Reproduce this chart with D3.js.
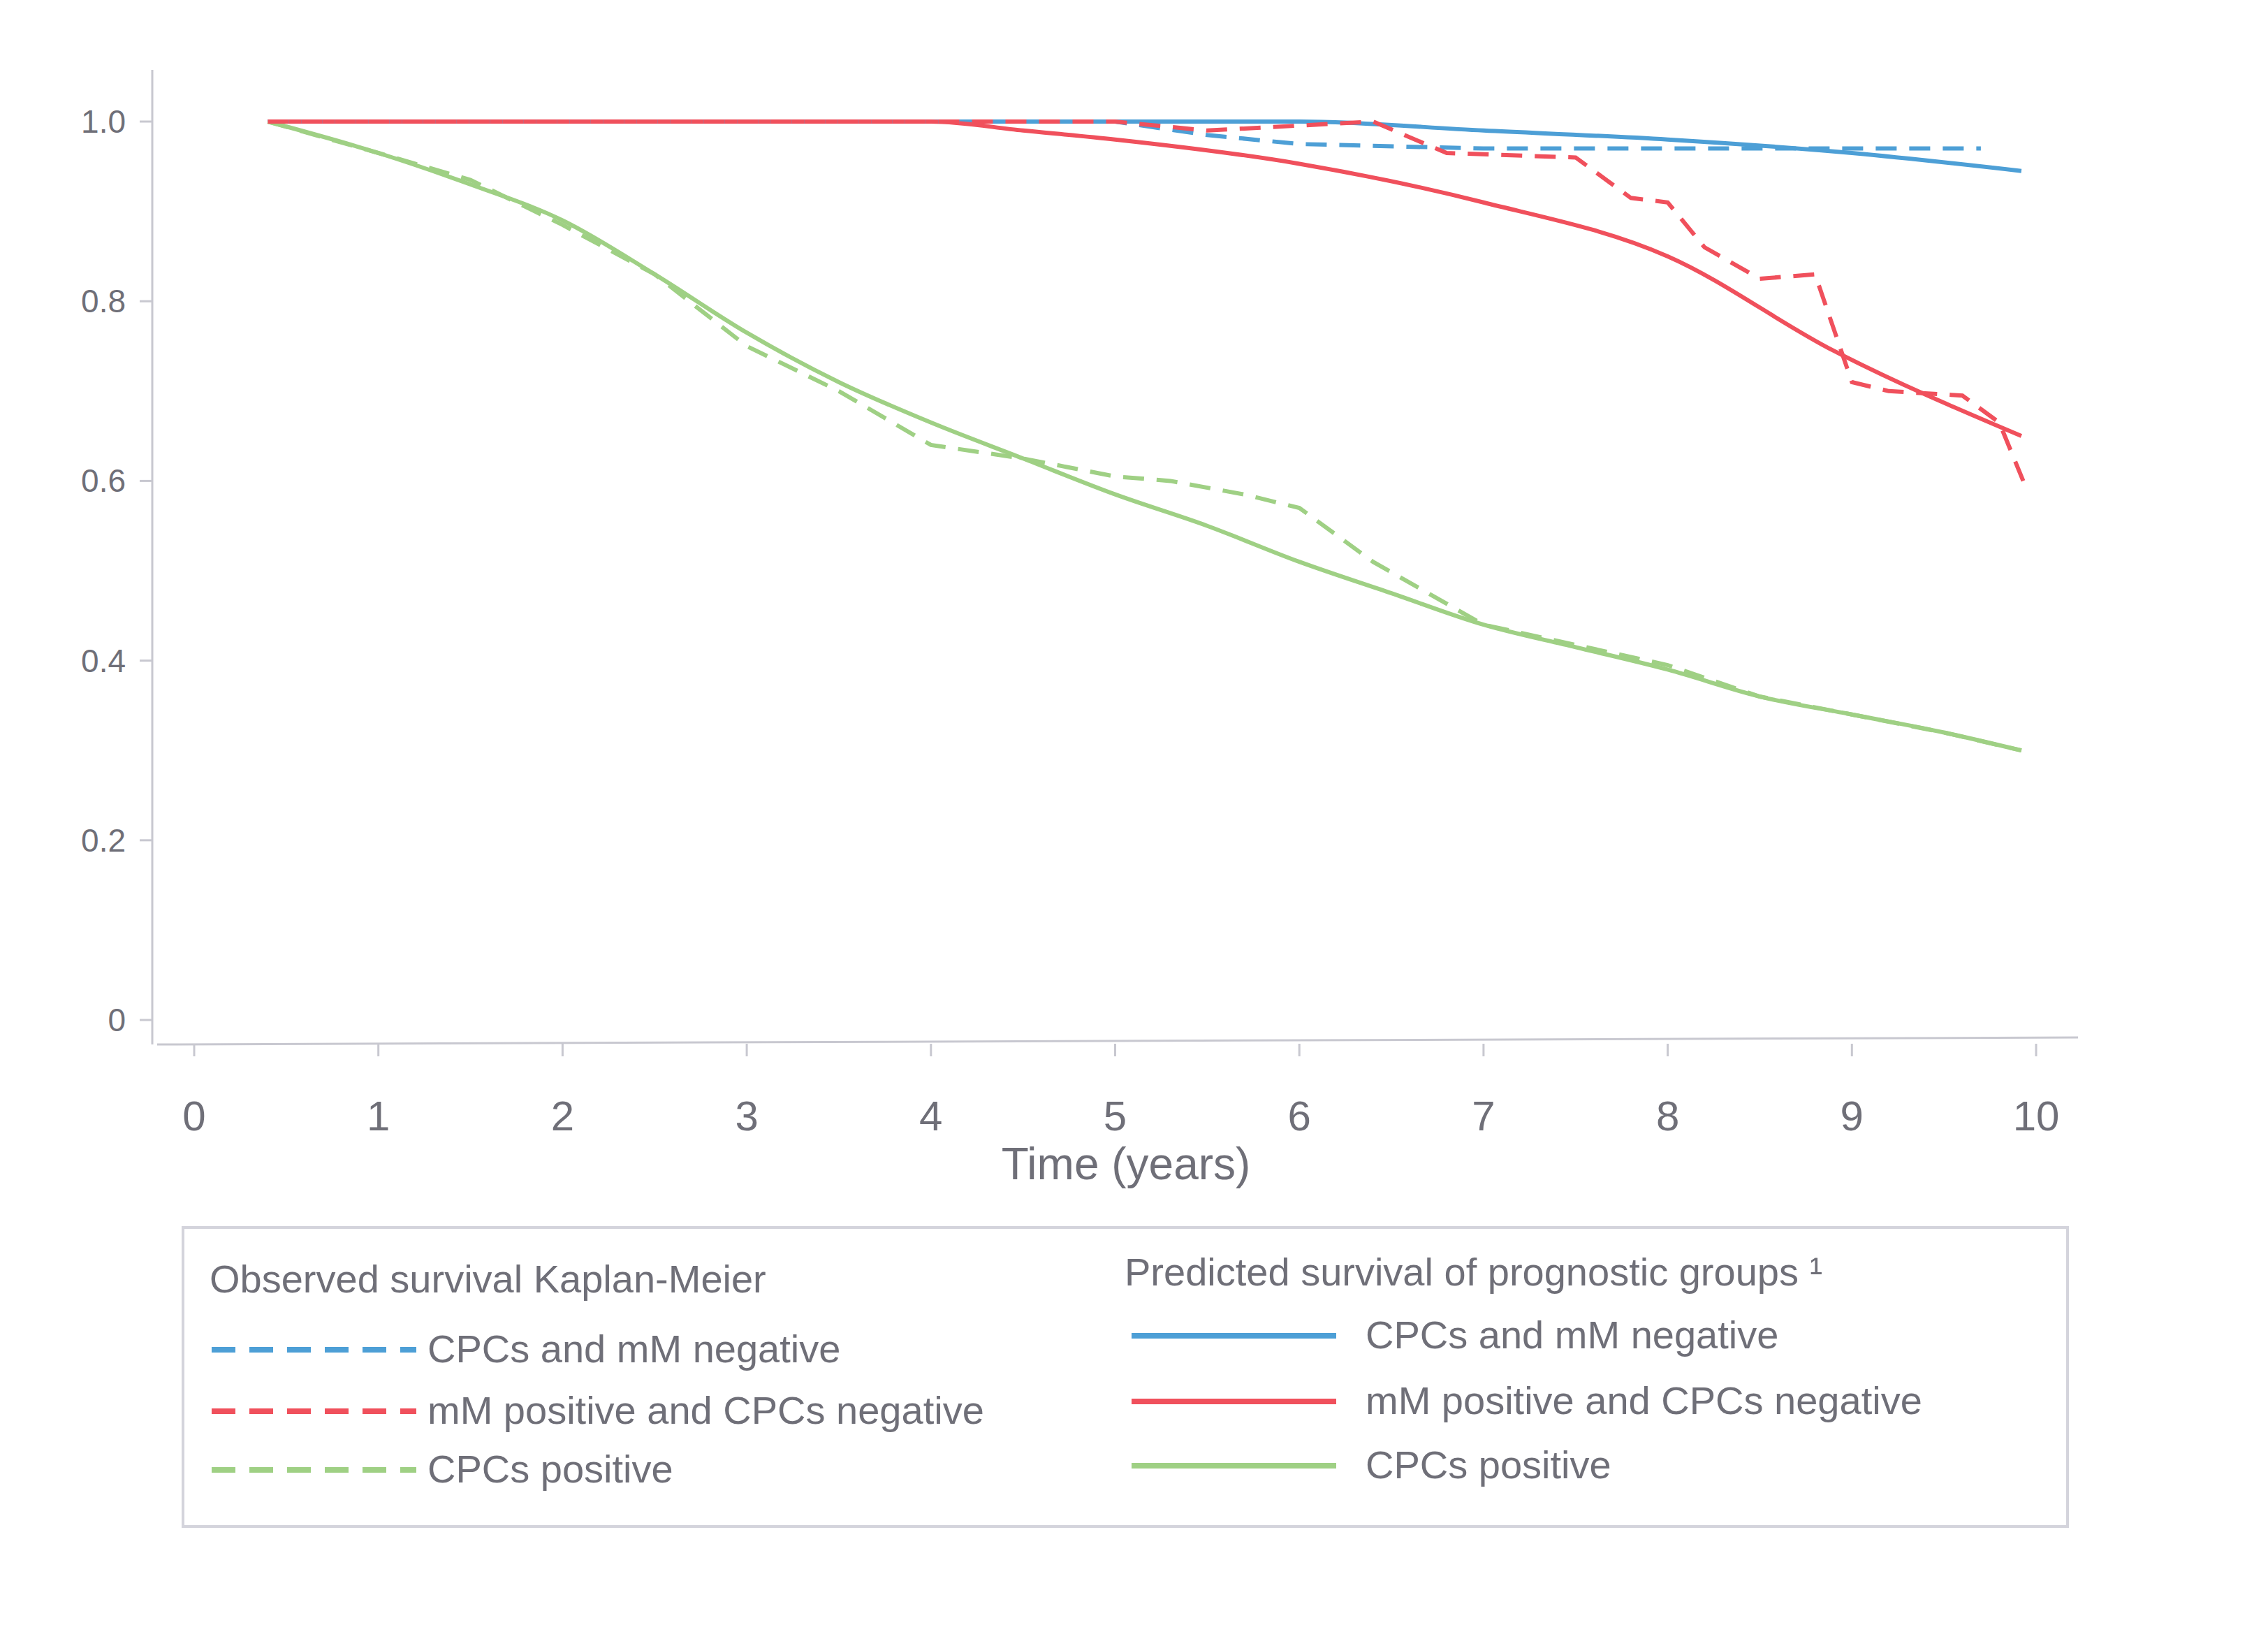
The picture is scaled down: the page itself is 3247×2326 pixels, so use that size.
<!DOCTYPE html>
<html>
<head>
<meta charset="utf-8">
<script src="https://cdn.jsdelivr.net/npm/d3@7"></script>
<style>
  body { margin: 0; background: #fff; }
  text { font-family: "Liberation Sans", Arial, sans-serif; fill: #6f6f78; }
</style>
</head>
<body>
<script>
(function() {
    'use strict';

    var xTicks = [0, 1, 2, 3, 4, 5, 6, 7, 8, 9, 10];
    var yTicks = [0, 0.2, 0.4, 0.6, 0.8, 1.0];

    // predicted survival (solid)
    var predBlue = [[0.4, 1], [5, 1], [6, 1.0], [7, 0.99], [8, 0.98], [9, 0.965], [9.92, 0.945]];
    var predRed = [[0.4, 1], [4, 1], [4.5, 0.99], [5, 0.98], [6, 0.953], [7, 0.91], [8, 0.85], [8.9, 0.745], [9.92, 0.65]];
    var predGreen = [[0.4, 1], [1, 0.965], [1.5, 0.93], [2, 0.89], [2.5, 0.83], [3, 0.765], [3.5, 0.71],
        [4, 0.665], [4.5, 0.625], [5, 0.585], [5.5, 0.55], [6, 0.51], [6.5, 0.475], [7, 0.44],
        [7.5, 0.415], [8, 0.39], [8.5, 0.36], [9, 0.34], [9.5, 0.32], [9.92, 0.30]];

    // observed Kaplan-Meier (dashed)
    var obsBlue = [[0.4, 1], [5, 1], [5.5, 0.985], [6, 0.975], [7, 0.97], [8, 0.97], [9, 0.97], [9.7, 0.97]];
    var obsRed = [[0.4, 1], [5, 1], [5.5, 0.99], [6.4, 1.0], [6.8, 0.965], [7.5, 0.96], [7.8, 0.915],
        [8.0, 0.91], [8.2, 0.86], [8.5, 0.825], [8.8, 0.83], [9.0, 0.71], [9.2, 0.70], [9.6, 0.695],
        [9.8, 0.665], [9.95, 0.59]];
    var obsGreen = [[0.4, 1], [1, 0.965], [1.5, 0.935], [2, 0.885], [2.5, 0.83], [3, 0.75], [3.5, 0.7],
        [4, 0.64], [4.5, 0.625], [5, 0.605], [5.3, 0.6], [5.7, 0.585], [6, 0.57], [6.4, 0.51],
        [7, 0.44], [8, 0.395], [8.5, 0.36], [9, 0.34], [9.5, 0.32], [9.92, 0.30]];

    var blue = '#4d9fd6', red = '#f0505c', green = '#9fd084';

    var svg = d3.select('body').append('svg')
        .attr('width', 3247)
        .attr('height', 2326);

    var x = d3.scaleLinear().domain([0, 10]).range([278, 2915]);
    var y = d3.scaleLinear().domain([0, 1]).range([1460, 174]);

    // axes
    svg.append('line').attr('x1', 218).attr('x2', 218).attr('y1', 100).attr('y2', 1495)
        .attr('stroke', '#c8c8d0').attr('stroke-width', 3);
    svg.append('line').attr('x1', 225).attr('x2', 2975).attr('y1', 1495).attr('y2', 1485)
        .attr('stroke', '#c8c8d0').attr('stroke-width', 3);

    svg.selectAll('.ytick').data(yTicks).enter().append('line')
        .attr('x1', 200).attr('x2', 218)
        .attr('y1', function(d) { return y(d); }).attr('y2', function(d) { return y(d); })
        .attr('stroke', '#c8c8d0').attr('stroke-width', 3);
    svg.selectAll('.ylab').data(yTicks).enter().append('text')
        .attr('x', 180).attr('y', function(d) { return y(d) + 16; })
        .attr('text-anchor', 'end').attr('font-size', 46)
        .text(function(d) { return d === 0 ? '0' : d.toFixed(1); });

    svg.selectAll('.xtick').data(xTicks).enter().append('line')
        .attr('x1', function(d) { return x(d); }).attr('x2', function(d) { return x(d); })
        .attr('y1', 1494).attr('y2', 1512)
        .attr('stroke', '#c8c8d0').attr('stroke-width', 3);
    svg.selectAll('.xlab').data(xTicks).enter().append('text')
        .attr('x', function(d) { return x(d); }).attr('y', 1618)
        .attr('text-anchor', 'middle').attr('font-size', 60)
        .text(function(d) { return d; });
    svg.append('text').attr('x', 1612).attr('y', 1688).attr('text-anchor', 'middle')
        .attr('font-size', 64).text('Time (years)');

    var line = d3.line()
        .x(function(d) { return x(d[0]); })
        .y(function(d) { return y(d[1]); })
        .curve(d3.curveMonotoneX);
    var kmLine = d3.line()
        .x(function(d) { return x(d[0]); })
        .y(function(d) { return y(d[1]); });

    [[predBlue, blue], [predGreen, green], [predRed, red]].forEach(function(s) {
        svg.append('path').attr('d', line(s[0])).attr('fill', 'none')
            .attr('stroke', s[1]).attr('stroke-width', 6);
    });
    [[obsBlue, blue], [obsGreen, green], [obsRed, red]].forEach(function(s) {
        svg.append('path').attr('d', kmLine(s[0])).attr('fill', 'none')
            .attr('stroke', s[1]).attr('stroke-width', 6).attr('stroke-dasharray', '30,18');
    });

    // legend
    svg.append('rect').attr('x', 262).attr('y', 1757).attr('width', 2698).attr('height', 428)
        .attr('fill', 'none').attr('stroke', '#d4d4dc').attr('stroke-width', 4);

    svg.append('text').attr('x', 300).attr('y', 1850).attr('font-size', 56)
        .text('Observed survival Kaplan-Meier');
    svg.append('text').attr('x', 1610).attr('y', 1840).attr('font-size', 56)
        .text('Predicted survival of prognostic groups \u00b9');

    var labels = ['CPCs and mM negative', 'mM positive and CPCs negative', 'CPCs positive'];
    var colors = [blue, red, green];
    var leftRows = [1932, 2020, 2104];
    var rightRows = [1912, 2006, 2098];

    labels.forEach(function(l, i) {
        svg.append('line').attr('x1', 303).attr('x2', 596)
            .attr('y1', leftRows[i]).attr('y2', leftRows[i])
            .attr('stroke', colors[i]).attr('stroke-width', 8).attr('stroke-dasharray', '34,20');
        svg.append('text').attr('x', 612).attr('y', leftRows[i] + 18).attr('font-size', 56).text(l);
        svg.append('line').attr('x1', 1620).attr('x2', 1913)
            .attr('y1', rightRows[i]).attr('y2', rightRows[i])
            .attr('stroke', colors[i]).attr('stroke-width', 8);
        svg.append('text').attr('x', 1955).attr('y', rightRows[i] + 18).attr('font-size', 56).text(l);
    });
}());
</script>
</body>
</html>
